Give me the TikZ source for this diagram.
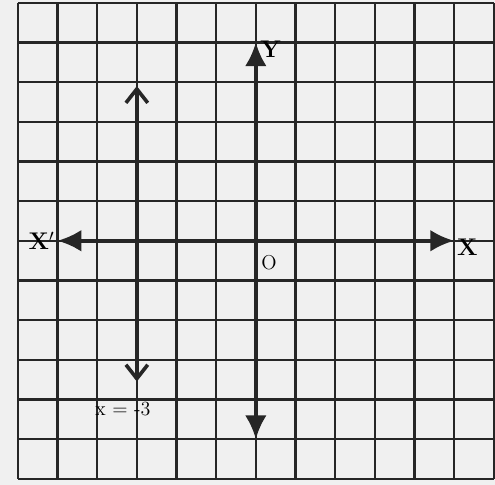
\documentclass[tikz,border=0pt]{standalone}
\usepackage{amsmath}
\usepackage{tikz}
\usetikzlibrary{arrows.meta}
\usetikzlibrary{positioning}

\tikzset{
	griglia/.style = {line width=1.6pt, black!85},
	asse/.style = {line width=2.6pt, black!85},
	retta/.style = {line width=2.6pt, black!85},
	etichetta/.style = {font=\LARGE\bfseries, inner sep=1pt}
}

\begin{document}
\begin{tikzpicture}[>={Latex[length=6mm,width=5.5mm]}]
			 	%%%	Sfondo
			 	\useasboundingbox[fill=black!6] (-6.45,-6.15) rectangle (6.03,6.07);
			 	%%%	Griglia
			 	\draw[griglia] (-6,-6) grid (6,6);
			 	%%%	Assi
			 	\coordinate (xneg) at (-5,0);
			 	\coordinate (xpos) at (5,0);
			 	\coordinate (yneg) at (0,-5);
			 	\coordinate (ypos) at (0,5);
			 	\draw[asse, <->] (xneg) -- (xpos);
			 	\draw[asse, <->] (yneg) -- (ypos);
			 	\node[etichetta, left=1pt of xneg] (xlab1) {X$'$};
			 	\node[etichetta, right=1pt of xpos, yshift=-5pt] (xlab2) {X};
			 	\node[etichetta, right=2pt of ypos, yshift=-5pt] (ylab) {Y};
			 	\node[font=\Large, inner sep=1pt] (orig) at (0.33,-0.55) {O};
			 	%%%	Retta x = -3
			 	\coordinate (rtop) at (-3,3.9);
			 	\coordinate (rbot) at (-3,-3.55);
			 	\draw[retta, {Straight Barb[length=3.5mm,width=5.5mm]}-{Straight Barb[length=3.5mm,width=5.5mm]}] (rbot) -- (rtop);
			 	\node[font=\Large, inner sep=1pt] (rlab) at (-3.35,-4.25) {x = -3};
			 \end{tikzpicture}
\end{document}
